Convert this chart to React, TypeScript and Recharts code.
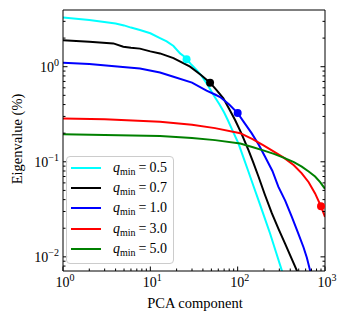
import React from 'react';
import { ComposedChart, Line, Scatter, XAxis, YAxis } from 'recharts';

// eigenvalue spectra, [component, eigenvalue %]
const q05: [number, number][] = [
  [1, 3.3], [2, 3.1], [4, 2.85], [5, 2.72], [6, 2.58], [7.6, 2.43], [10, 2.25], [12.9, 2.0],
  [15.4, 1.85], [18.4, 1.65], [21.9, 1.38], [24, 1.3], [26, 1.2], [29, 1.07], [34, 0.92],
  [39, 0.79], [44, 0.67], [49, 0.57], [54, 0.49], [62, 0.4], [70, 0.33], [77, 0.275],
  [88, 0.21], [102, 0.156], [116, 0.112], [133, 0.0786], [152, 0.0553], [173, 0.0395],
  [200, 0.027], [235, 0.0176], [275, 0.0112], [320, 0.0072], [345, 0.0058],
];
const q07: [number, number][] = [
  [1, 1.9], [2, 1.83], [3.77, 1.76], [4.9, 1.62], [6, 1.58], [7.6, 1.55], [10, 1.45],
  [12.9, 1.38], [18.4, 1.23], [28.5, 1.0], [38, 0.82], [48.3, 0.68], [58, 0.56], [68.6, 0.465],
  [80, 0.36], [93.4, 0.275], [110, 0.2], [133, 0.133], [150, 0.1], [173, 0.07], [205, 0.045],
  [246, 0.0288], [295, 0.0195], [349, 0.0138], [410, 0.0098], [475, 0.0072], [510, 0.006],
];
const q10: [number, number][] = [
  [1, 1.1], [2, 1.07], [4.5, 1.0], [7.6, 0.96], [12.9, 0.87], [18.4, 0.785], [30, 0.68],
  [44, 0.56], [55, 0.51], [63, 0.48], [80, 0.4], [100, 0.325], [120, 0.255], [145, 0.199],
  [175, 0.15], [206, 0.113], [250, 0.08], [292, 0.0547], [350, 0.039], [417, 0.0263],
  [490, 0.018], [566, 0.0127], [620, 0.0098], [675, 0.0072], [720, 0.006],
];
const q30: [number, number][] = [
  [1, 0.286], [3, 0.28], [12.9, 0.264], [30, 0.245], [55, 0.226], [107, 0.2], [150, 0.172],
  [200, 0.148], [260, 0.128], [340, 0.11], [440, 0.092], [542, 0.0755], [650, 0.061],
  [770, 0.0465], [900, 0.034], [1000, 0.0263],
];
const q50: [number, number][] = [
  [1, 0.195], [12.9, 0.187], [30, 0.178], [55, 0.169], [107, 0.156], [150, 0.142],
  [200, 0.131], [260, 0.121], [340, 0.11], [440, 0.099], [542, 0.089], [650, 0.079],
  [770, 0.07], [880, 0.061], [1000, 0.052],
];

// highlighted point on each curve
const marks: [number, number][] = [[26, 1.2], [48.3, 0.68], [100, 0.325], [900, 0.034]];

const qLabels = ['0.5', '0.7', '1.0', '3.0', '5.0'];
const colors = ['#00ffff', '#000000', '#0000ff', '#ff0000', '#008000'];
const curves = [q05, q07, q10, q30, q50];

const xTicks = [1, 2, 3, 4, 5, 6, 7, 8, 9, 10, 20, 30, 40, 50, 60, 70, 80, 90,
  100, 200, 300, 400, 500, 600, 700, 800, 900, 1000];
const yTicks = [0.008, 0.009, 0.01, 0.02, 0.03, 0.04, 0.05, 0.06, 0.07, 0.08, 0.09,
  0.1, 0.2, 0.3, 0.4, 0.5, 0.6, 0.7, 0.8, 0.9, 1, 2, 3];

const FONT = '"Liberation Serif", "Times New Roman", serif';

const isMajor = (v: number) => Math.abs(Math.log10(v) - Math.round(Math.log10(v))) < 1e-6;
const expText = (v: number) => {
  const e = Math.round(Math.log10(v));
  return e < 0 ? '\u2212' + -e : String(e);
};

const Pow = ({ x, y, v, anchor }: any) => (
  <text x={x} y={y} textAnchor={anchor} fontFamily={FONT} fontSize={14} fill="#000">
    10<tspan dy={-6} fontSize={10}>{expText(v)}</tspan>
  </text>
);

const tickLen = (v: number) => (isMajor(v) ? 4.5 : 2.5);

const BottomTick = ({ x, y, payload }: any) => (
  <g>
    <line x1={x} x2={x} y1={y} y2={y - tickLen(payload.value)} stroke="#000" />
    {isMajor(payload.value) && <Pow x={x + 2} y={y + 16} v={payload.value} anchor="middle" />}
  </g>
);
const TopTick = ({ x, y, payload }: any) => (
  <line x1={x} x2={x} y1={y} y2={y + tickLen(payload.value)} stroke="#000" />
);
const LeftTick = ({ x, y, payload }: any) => (
  <g>
    <line x1={x} x2={x + tickLen(payload.value)} y1={y} y2={y} stroke="#000" />
    {isMajor(payload.value) && <Pow x={x - 4} y={y + 5} v={payload.value} anchor="end" />}
  </g>
);
const RightTick = ({ x, y, payload }: any) => (
  <line x1={x} x2={x - tickLen(payload.value)} y1={y} y2={y} stroke="#000" />
);

const Dot = (color: string) => (p: any) => <circle cx={p.cx} cy={p.cy} r={4} fill={color} />;

const App = () => {
  const axisLine = { stroke: '#000', strokeWidth: 1 };
  return (
    <div style={{ position: 'absolute', left: 0, top: 0, width: 346, height: 321, fontFamily: FONT }}>
      <ComposedChart width={346} height={321} margin={{ top: 9, right: 20, bottom: 49, left: 62 }}>
        <XAxis xAxisId="b" dataKey="x" type="number" scale="log" domain={[1, 1000]} allowDataOverflow
          ticks={xTicks} interval={0} height={1} tickSize={0} tickMargin={0} axisLine={axisLine}
          tickLine={false} tick={<BottomTick />} />
        <XAxis xAxisId="t" orientation="top" type="number" scale="log" domain={[1, 1000]} allowDataOverflow
          ticks={xTicks} interval={0} height={1} tickSize={0} tickMargin={0} axisLine={axisLine}
          tickLine={false} tick={<TopTick />} />
        <YAxis yAxisId="l" dataKey="y" type="number" scale="log" domain={[0.0071, 3.95]} allowDataOverflow
          ticks={yTicks} interval={0} width={1} tickSize={0} tickMargin={0} axisLine={axisLine}
          tickLine={false} tick={<LeftTick />} />
        <YAxis yAxisId="r" orientation="right" type="number" scale="log" domain={[0.0071, 3.95]} allowDataOverflow
          ticks={yTicks} interval={0} width={1} tickSize={0} tickMargin={0} axisLine={axisLine}
          tickLine={false} tick={<RightTick />} />
        {curves.map((c, i) => (
          <Line key={qLabels[i]} xAxisId="b" yAxisId="l" data={c.map(([x, y]) => ({ x, y }))}
            dataKey="y" type="linear" stroke={colors[i]} strokeWidth={2} dot={false}
            isAnimationActive={false} />
        ))}
        {marks.map(([x, y], i) => (
          <Scatter key={'m' + i} xAxisId="b" yAxisId="l" data={[{ x, y }]} dataKey="y"
            shape={Dot(colors[i])} isAnimationActive={false} />
        ))}
      </ComposedChart>
      <div style={{ position: 'absolute', left: 195, top: 303, transform: 'translate(-50%, -50%)',
        fontSize: 14.5, whiteSpace: 'nowrap' }}>PCA component</div>
      <div style={{ position: 'absolute', left: 17, top: 138.5, transform: 'translate(-50%, -50%) rotate(-90deg)',
        fontSize: 14.5, whiteSpace: 'nowrap' }}>Eigenvalue (%)</div>
      <div style={{ position: 'absolute', left: 66, top: 156, width: 106, height: 106,
        border: '1px solid #cccccc', borderRadius: 4, background: 'rgba(255,255,255,0.8)' }}>
        {qLabels.map((q, i) => (
          <div key={q} style={{ position: 'absolute', left: 0, top: 1 + i * 20.2, height: 20,
            display: 'flex', alignItems: 'center', whiteSpace: 'nowrap', fontFamily: FONT }}>
            <div style={{ marginLeft: 4, width: 30, height: 2, background: colors[i] }} />
            <span style={{ marginLeft: 12, fontSize: 14 }}>
              <i>q</i><span style={{ fontSize: 10, position: 'relative', top: 3 }}>min</span>
              <span style={{ marginLeft: 3 }}>=</span><span style={{ marginLeft: 3 }}>{q}</span>
            </span>
          </div>
        ))}
      </div>
    </div>
  );
};

export default App;
